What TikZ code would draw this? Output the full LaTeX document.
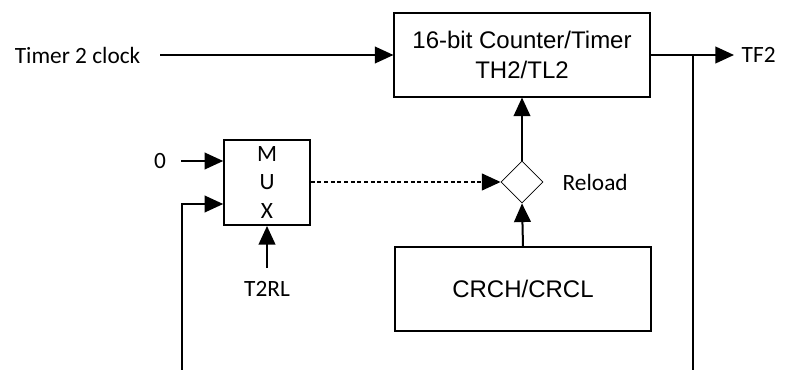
\documentclass[tikz,border=0pt]{standalone}
\usepackage{fontspec}
\setmainfont{Carlito}
\newfontfamily\arialfont{Liberation Sans}
\usetikzlibrary{arrows.meta,shapes.geometric,positioning}

\begin{document}
\begin{tikzpicture}[
    x=0.75pt, y=-0.75pt,
    wire/.style={line width=1.5pt},
    sig/.style={wire,-{Triangle[length=14pt,width=12.5pt]}},
    box/.style={draw,line width=0.8pt,minimum width=192pt,minimum height=63pt,
        align=center,font=\arialfont\fontsize{18}{22.5}\selectfont},
    lbl/.style={font=\fontsize{17.5}{20}\selectfont}
]
\useasboundingbox (0,0) rectangle (787,370);

% blocks
\node[box] (ctr) at (522,55) {16-bit Counter/Timer\\TH2/TL2};
\node[box] (crc) at (523,289) {CRCH/CRCL};
\node[draw,diamond,line width=0.6pt,minimum size=31.5pt,inner sep=0pt] (rld) at (522,182) {};
\node[draw,line width=1.2pt,minimum width=64.5pt,minimum height=64pt,align=center,
    font=\fontsize{17.5}{21.5}\selectfont] (mux) at (267,182.5) {M\\U\\X};

% labels
\node[lbl,anchor=east] (clk) at (145,55) {Timer 2 clock};
\node[lbl,anchor=west] (tf) at (737,55) {TF2};
\node[lbl] (zero) at (160,161) {0};
\node[lbl] (trl) at (267,289) {T2RL};
\node[lbl,anchor=west] (rl) at (558,182) {Reload};

% wire ends
\coordinate (clkin) at (160,55);
\coordinate (tfout) at (734,55);
\coordinate (tap) at (693,55);
\coordinate (tapbot) at (693,370);
\coordinate (zin) at (181,161);
\coordinate (fbin) at (182,204);
\coordinate (fbbot) at (182,370);
\coordinate (trlin) at (267,268);

\draw[sig] (clkin) -- (ctr.west);
\draw[sig] (ctr.east) -- (tfout);
\draw[wire] (tap) -- (tapbot);
\draw[sig] (zin) -- (zin -| mux.west);
\draw[sig] (fbbot) -- (fbin) -- (fbin -| mux.west);
\draw[sig] (trlin) -- (mux.south);
\draw[sig,dash pattern=on 3pt off 2pt] (mux.east |- rld.west) -- (rld.west);
\draw[sig] (rld.north) -- (ctr.south);
\draw[sig] (crc.north) -- (rld.south);
\end{tikzpicture}
\end{document}
